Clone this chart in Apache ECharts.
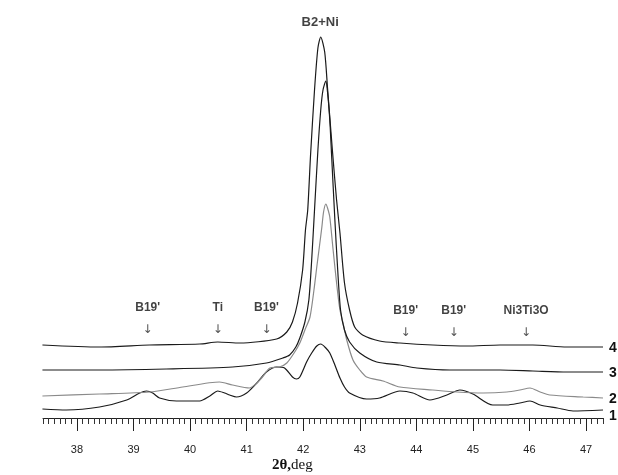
<!DOCTYPE html>
<html><head><meta charset="utf-8">
<script src="https://cdn.jsdelivr.net/npm/echarts@6/dist/echarts.min.js"></script>
<style>html,body{margin:0;padding:0;background:#fff}#c{width:618px;height:475px}</style>
</head><body><div id="c"></div>
<script>
// ---- data (2θ in degrees, relative intensity) ----
const xTickLabels = [38, 39, 40, 41, 42, 43, 44, 45, 46, 47];
const curveNames = ['1', '2', '3', '4'];

const deg1 = [37.39,37.81,38.40,38.88,39.11,39.23,39.34,39.46,39.76,40.17,40.35,40.49,40.61,40.70,40.82,41.00,41.18,41.35,41.53,41.67,41.81,41.88,41.94,42.06,42.15,42.24,42.31,42.40,42.47,42.56,42.65,42.73,42.82,43.12,43.35,43.71,43.94,44.24,44.54,44.77,45.00,45.35,45.60,45.83,46.01,46.19,46.49,46.77,47.30];
const int1 = [9,8,11,18,25,27,25,20,17,17,22,27,25,23,21,25,35,46,51,50,41,39,41,56,65,72,74,70,65,53,40,31,25,19,20,27,25,18,23,28,24,13,13,15,17,13,10,7,8];

const deg2 = [37.39,38.40,39.28,39.87,40.52,40.75,41.05,41.18,41.28,41.41,41.58,41.71,41.85,41.94,42.03,42.12,42.19,42.24,42.29,42.33,42.36,42.40,42.43,42.47,42.52,42.56,42.61,42.65,42.70,42.77,42.88,43.00,43.12,43.41,43.71,44.29,44.72,45.18,45.60,45.83,46.01,46.19,46.36,46.95,47.30];
const int2 = [22,24,26,31,36,33,30,35,41,50,51,55,66,75,88,101,128,151,173,191,206,214,210,201,173,151,125,108,96,78,58,48,41,37,31,28,26,25,26,28,30,26,23,21,20];

const deg3 = [37.39,38.40,39.58,40.75,41.35,41.64,41.76,41.87,41.94,42.03,42.10,42.15,42.20,42.26,42.31,42.35,42.40,42.43,42.47,42.50,42.56,42.61,42.66,42.73,42.82,43.00,43.30,43.71,44.01,44.59,45.48,46.06,46.66,47.30];
const int3 = [48,48,49,51,55,60,63,71,80,96,118,158,208,268,308,328,337,326,298,265,198,148,108,88,76,65,56,53,50,48,48,47,46,46];

const deg4 = [37.39,38.40,39.28,40.17,40.49,40.88,41.53,41.71,41.81,41.90,41.99,42.04,42.08,42.13,42.20,42.26,42.31,42.38,42.43,42.52,42.59,42.65,42.73,42.82,42.91,43.05,43.35,43.71,44.29,44.89,45.48,46.06,46.66,47.30];
const int4 = [73,71,73,74,76,75,79,86,96,115,148,188,208,263,328,370,381,366,330,265,218,185,135,108,91,83,77,75,73,72,73,73,71,71];

const peakLabel = {text: 'B2+Ni', deg: 42.3, y: 396};
const annoText = ["B19'", 'Ti', "B19'", "B19'", "B19'", 'Ni3Ti3O'];
const annoDeg  = [39.25, 40.49, 41.35, 43.81, 44.66, 45.94];
const annoY    = [99, 99, 99, 96, 96, 96];

// ---- build ----
function pairs(d, v){ return d.map((x,i)=>[x, v[i]]); }
const minorTicks = [];
for (let i = 374; i <= 473; i++) minorTicks.push(i/10);

const curves = [[deg1,int1,'#1a1a1a'],[deg2,int2,'#8a8a8a'],[deg3,int3,'#1a1a1a'],[deg4,int4,'#1a1a1a']];
const series = curves.map((c,i)=>({
  type:'line', name: curveNames[i], data: pairs(c[0],c[1]), showSymbol:false, smooth:0.25,
  lineStyle:{color:c[2], width:1.2}, silent:true, animation:false,
  endLabel:{show:true, formatter: curveNames[i], distance:6, offset: i===0?[0,6]:[0,1],
    fontFamily:'Liberation Sans', fontWeight:'bold', fontSize:14, color:'#111'}
}));
series.push({
  type:'scatter', symbolSize:0, animation:false, silent:true,
  data: annoText.map((t,i)=>({value:[annoDeg[i], annoY[i]], name:t})),
  label:{show:true, position:'inside', formatter: p=>'{t|'+p.name+'}\n{a|↓}',
    rich:{ t:{fontFamily:'Liberation Sans', fontWeight:'bold', fontSize:12, color:'#111', lineHeight:22, align:'center'},
           a:{fontFamily:'DejaVu Sans', fontSize:12, color:'#222', lineHeight:22, align:'center'} } }
});
series.push({
  type:'scatter', symbolSize:0, animation:false, silent:true,
  data:[{value:[peakLabel.deg, peakLabel.y], name:peakLabel.text}],
  label:{show:true, position:'inside', formatter: p=>p.name,
    fontFamily:'Liberation Sans', fontWeight:'bold', fontSize:13, color:'#111'}
});

const chart = echarts.init(document.getElementById('c'), null, {renderer:'canvas'});
chart.setOption({
  animation:false,
  backgroundColor:'#fff',
  grid:{left:43, right:15, top:18, bottom:57},
  xAxis:[
    {type:'value', min:37.4, max:47.3, position:'bottom',
     axisLine:{show:true, lineStyle:{color:'#222', width:1}},
     axisTick:{show:true, customValues:minorTicks, length:6, lineStyle:{color:'#333'}},
     axisLabel:{show:true, customValues:xTickLabels, margin:26, fontFamily:'Liberation Sans', fontSize:11, color:'#222'},
     splitLine:{show:false}},
    {type:'value', min:37.4, max:47.3, position:'bottom',
     axisLine:{show:false},
     axisTick:{show:true, customValues:xTickLabels, length:13, lineStyle:{color:'#222'}},
     axisLabel:{show:false}, splitLine:{show:false}}
  ],
  yAxis:{type:'value', min:0, max:400, show:false},
  series: series,
  graphic:[{type:'text', left:272, top:458, style:{
    text:'{b|2θ,}{r|deg}', fill:'#111',
    rich:{b:{fontFamily:'Liberation Serif', fontWeight:'bold', fontSize:15, fill:'#111'},
          r:{fontFamily:'Liberation Serif', fontSize:15, fill:'#111'}} }}]
});
</script></body></html>
